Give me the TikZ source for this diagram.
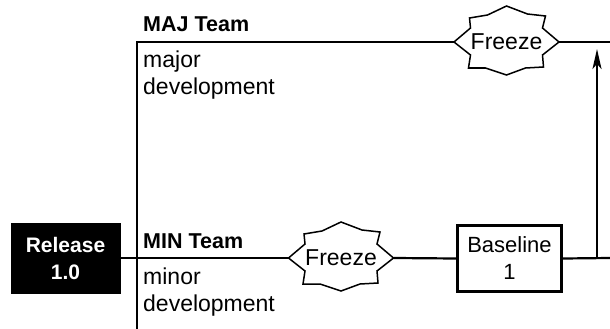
\documentclass[tikz,border=0pt]{standalone}
\usepackage{fontspec}
\setmainfont{Liberation Sans}
\usetikzlibrary{arrows.meta}
\tikzset{
  lane/.style={line width=2.2pt},
  burstline/.style={line width=1.5pt, fill=white, line join=miter},
  freezetext/.style={inner sep=0pt, minimum width=105pt, minimum height=20pt, font=\fontsize{23}{27}\selectfont},
  teamlabel/.style={anchor=base west, inner sep=0pt, font=\bfseries\fontsize{21.5}{26}\selectfont},
  desc/.style={anchor=base west, inner sep=0pt, align=left, font=\fontsize{23}{27}\selectfont},
  releasebox/.style={fill=black, draw=black, text=white, inner sep=0pt, minimum width=109pt, minimum height=70pt, align=center, font=\bfseries\fontsize{21}{27}\selectfont},
  basebox/.style={fill=white, draw=black, line width=3.3pt, inner sep=0pt, minimum width=104pt, minimum height=66pt, align=center, font=\fontsize{22}{27}\selectfont},
}
\newcommand\drawburst[1]{%
  \draw[burstline, shift={(#1)}]
    (-52.5,0) -- (-36,-14) -- (-37,-24) -- (-19,-27) -- (0,-36) -- (21,-28)
    -- (39,-26) -- (36,-14) -- (52.5,0) -- (36,13) -- (37,25) -- (19,26)
    -- (0,33) -- (-21,26) -- (-38,26) -- (-36,13) -- cycle;}
\begin{document}
\begin{tikzpicture}[x=1pt, y=-1pt]
\useasboundingbox (0,0) rectangle (610,329);
% coordinates
\coordinate (corner) at (137,42);
\coordinate (vbottom) at (137,329);
\coordinate (topright) at (610,42);
\coordinate (botright) at (610,258);
\coordinate (junction) at (597,258);
\coordinate (arrowtip) at (597,49);
\coordinate (c1) at (506.5,42);
\coordinate (c2) at (341,258);
% bursts
\drawburst{c1}
\drawburst{c2}
% nodes
\node[freezetext] (f1) at (c1) {Freeze};
\node[freezetext] (f2) at (c2) {Freeze};
\node[releasebox] (rel) at (65.5,258) {Release\\1.0};
\node[basebox] (base) at (509.5,258.5) {Baseline\\1};
\node[teamlabel] (maj) at (143,31.5) {MAJ Team};
\node[desc] (majd) at (143,94) {major\\development};
\node[teamlabel] (min) at (143,248) {MIN Team};
\node[desc] (mind) at (143,311) {minor\\development};
% connectors
\draw[lane] (vbottom) -- (corner) -- (f1.west);
\draw[lane] (f1.east) -- (topright);
\draw[lane] (rel.east) -- (f2.west);
\draw[lane] (f2.east) -- (base.west);
\draw[lane] (base.east) -- (botright);
\draw[lane, -{Stealth[length=20pt, width=9pt, inset=5pt]}] (junction) -- (arrowtip);
\end{tikzpicture}
\end{document}
